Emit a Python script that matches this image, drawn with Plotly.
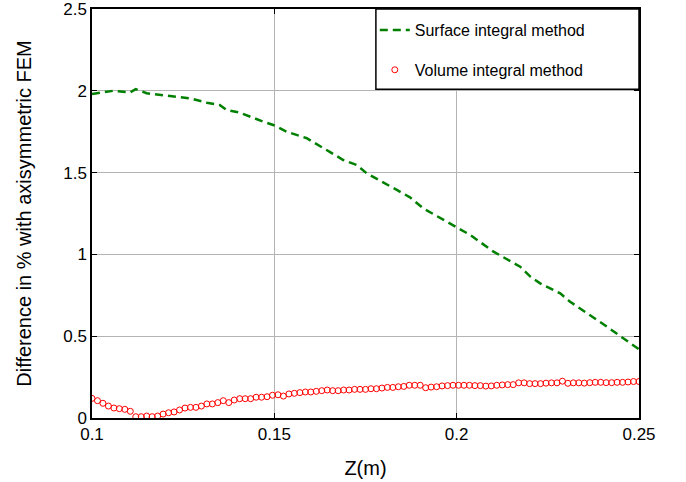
import plotly.graph_objects as go

# Surface integral method (green dashed)
surf_x = [0.1, 0.1058, 0.1104, 0.112, 0.115, 0.124, 0.127, 0.1315, 0.135, 0.1369, 0.1406,
          0.147, 0.1497, 0.1534, 0.1589, 0.1653, 0.1689, 0.1726, 0.1753, 0.1836, 0.1872,
          0.1908, 0.1991, 0.2037, 0.2101, 0.2174, 0.2202, 0.2229, 0.2284, 0.2311, 0.2412, 0.25]
surf_y = [1.98, 2.00, 1.99, 2.01, 1.985, 1.965, 1.954, 1.927, 1.913, 1.883, 1.866,
          1.811, 1.791, 1.75, 1.71, 1.625, 1.577, 1.546, 1.496, 1.394, 1.349,
          1.282, 1.18, 1.119, 1.017, 0.925, 0.864, 0.823, 0.762, 0.711, 0.558, 0.42]

# Volume integral method (red open circles), z from 0.1 to 0.25, step 0.0015
vol_x = [round(0.1 + 0.0015 * i, 4) for i in range(101)]
vol_y = [0.12, 0.106, 0.09, 0.073, 0.061, 0.057, 0.053, 0.041, 0.008, 0.008,
         0.012, 0.008, 0.012, 0.024, 0.032, 0.037, 0.049, 0.061, 0.065, 0.065,
         0.073, 0.086, 0.086, 0.094, 0.106, 0.094, 0.11, 0.118, 0.118, 0.118,
         0.127, 0.127, 0.13, 0.139, 0.142, 0.134, 0.147, 0.151, 0.155, 0.159,
         0.159, 0.163, 0.167, 0.171, 0.167, 0.167, 0.171, 0.171, 0.175, 0.175,
         0.175, 0.179, 0.179, 0.183, 0.187, 0.187, 0.191, 0.193, 0.2, 0.2,
         0.2, 0.185, 0.189, 0.191, 0.196, 0.198, 0.2, 0.2, 0.2, 0.2,
         0.198, 0.198, 0.195, 0.196, 0.2, 0.202, 0.204, 0.204, 0.215, 0.215,
         0.21, 0.21, 0.21, 0.213, 0.215, 0.215, 0.225, 0.212, 0.215, 0.215,
         0.213, 0.216, 0.218, 0.218, 0.216, 0.216, 0.218, 0.218, 0.22, 0.223,
         0.223]

x_ticks = [0.1, 0.15, 0.2, 0.25]
x_tick_text = ["0.1", "0.15", "0.2", "0.25"]
y_ticks = [0, 0.5, 1, 1.5, 2, 2.5]
y_tick_text = ["0", "0.5", "1", "1.5", "2", "2.5"]

FONT = "Liberation Sans, Arial, sans-serif"

fig = go.Figure()
fig.add_trace(go.Scatter(
    x=surf_x, y=surf_y, mode="lines", name="Surface integral method",
    line=dict(color="#008000", width=2.5, dash="8px,5px"),
    legendgroup="a",
))
fig.add_trace(go.Scatter(
    x=vol_x, y=vol_y, mode="markers", name="Volume integral method",
    marker=dict(symbol="circle-open", color="#ff0000", size=6, line=dict(width=1)),
    legendgroup="b",
))

L, R, T, B = 92, 47, 9, 64
fig.update_layout(
    width=686, height=482,
    margin=dict(l=L, r=R, t=T, b=B, autoexpand=False),
    paper_bgcolor="white", plot_bgcolor="white",
    font=dict(family=FONT, size=17, color="black"),
    showlegend=True,
    legend=dict(
        x=0.517, y=0.99, xanchor="left", yanchor="top",
        bgcolor="rgba(0,0,0,0)", borderwidth=0,
        font=dict(size=16, family=FONT),
        tracegroupgap=16, itemwidth=30,
    ),
    shapes=[dict(
        type="rect", xref="paper", yref="paper",
        x0=0.519, x1=1.0, y0=0.804, y1=1.0,
        line=dict(color="black", width=1.5), fillcolor="white", layer="above",
    )],
)
fig.update_xaxes(
    range=[0.1, 0.25], tickvals=x_ticks, ticktext=x_tick_text,
    showgrid=True, gridcolor="#b4b4b4", gridwidth=1,
    showline=True, linecolor="black", linewidth=1.5, mirror="ticks",
    ticks="inside", ticklen=5, tickcolor="black", zeroline=False,
    ticklabeloverflow="allow",
    title=dict(text="Z(m)", font=dict(size=20, family=FONT), standoff=18),
)
fig.update_yaxes(
    range=[0, 2.5], tickvals=y_ticks, ticktext=y_tick_text,
    showgrid=True, gridcolor="#b4b4b4", gridwidth=1,
    showline=True, linecolor="black", linewidth=1.5, mirror="ticks",
    ticks="inside", ticklen=5, tickcolor="black", zeroline=False,
    ticklabeloverflow="allow",
    title=dict(text="Difference in % with axisymmetric FEM", font=dict(size=20, family=FONT), standoff=26),
)

fig.write_html("out.html", config={"displayModeBar": False},
               post_script="document.body.style.margin='0px';")
